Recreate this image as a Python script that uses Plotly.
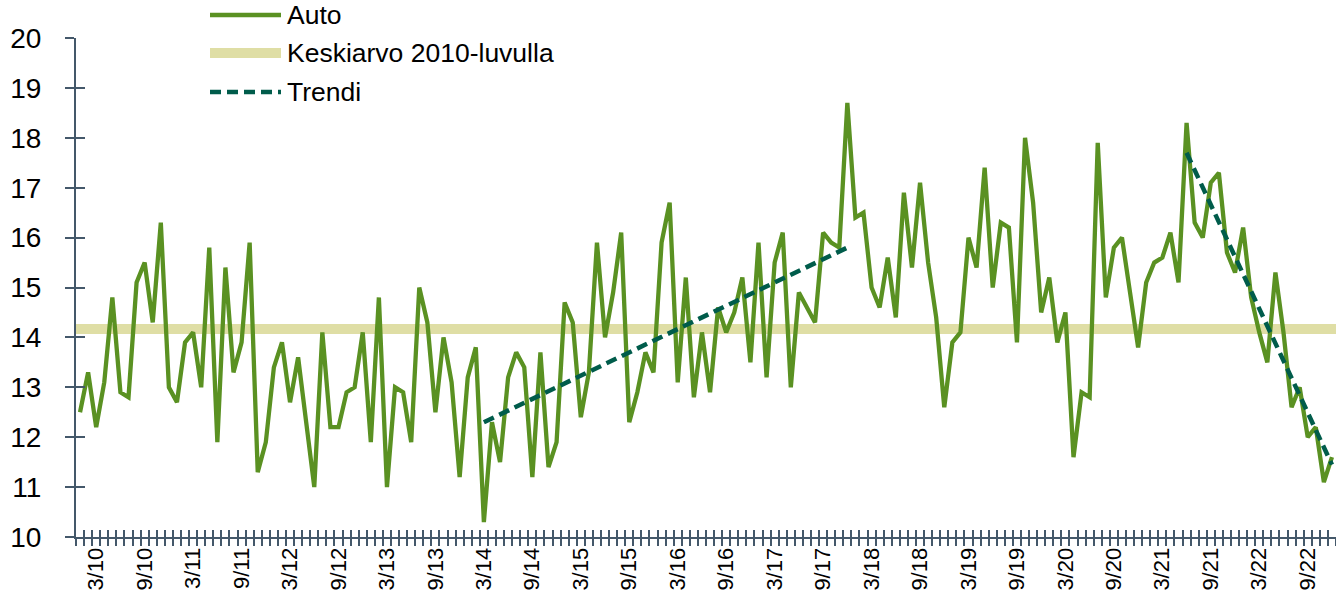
import plotly.graph_objects as go

# ---------------- data ----------------
years = list(range(10, 23))
months = [f"{m}/{y}" for y in years for m in range(1, 13)]  # 1/10 ... 12/22

auto_values = [
    12.5, 13.3, 12.2, 13.1, 14.8, 12.9, 12.8, 15.1, 15.5, 14.3, 16.3, 13.0,   # 2010
    12.7, 13.9, 14.1, 13.0, 15.8, 11.9, 15.4, 13.3, 13.9, 15.9, 11.3, 11.9,   # 2011
    13.4, 13.9, 12.7, 13.6, 12.3, 11.0, 14.1, 12.2, 12.2, 12.9, 13.0, 14.1,   # 2012
    11.9, 14.8, 11.0, 13.0, 12.9, 11.9, 15.0, 14.3, 12.5, 14.0, 13.1, 11.2,   # 2013
    13.2, 13.8, 10.3, 12.3, 11.5, 13.2, 13.7, 13.4, 11.2, 13.7, 11.4, 11.9,   # 2014
    14.7, 14.3, 12.4, 13.3, 15.9, 14.0, 14.9, 16.1, 12.3, 12.9, 13.7, 13.3,   # 2015
    15.9, 16.7, 13.1, 15.2, 12.8, 14.1, 12.9, 14.6, 14.1, 14.5, 15.2, 13.5,   # 2016
    15.9, 13.2, 15.5, 16.1, 13.0, 14.9, 14.6, 14.3, 16.1, 15.9, 15.8, 18.7,   # 2017
    16.4, 16.5, 15.0, 14.6, 15.6, 14.4, 16.9, 15.4, 17.1, 15.5, 14.4, 12.6,   # 2018
    13.9, 14.1, 16.0, 15.4, 17.4, 15.0, 16.3, 16.2, 13.9, 18.0, 16.7, 14.5,   # 2019
    15.2, 13.9, 14.5, 11.6, 12.9, 12.8, 17.9, 14.8, 15.8, 16.0, 14.9, 13.8,   # 2020
    15.1, 15.5, 15.6, 16.1, 15.1, 18.3, 16.3, 16.0, 17.1, 17.3, 15.7, 15.3,   # 2021
    16.2, 14.8, 14.1, 13.5, 15.3, 14.1, 12.6, 13.0, 12.0, 12.2, 11.1, 11.6,   # 2022
]

average_2010s = 14.17

trend1_months = ["3/14", "12/17"]
trend1_values = [12.3, 15.8]
trend2_months = ["6/21", "12/22"]
trend2_values = [17.7, 11.45]

tick_labels = ["3/10", "9/10", "3/11", "9/11", "3/12", "9/12", "3/13", "9/13",
               "3/14", "9/14", "3/15", "9/15", "3/16", "9/16", "3/17", "9/17",
               "3/18", "9/18", "3/19", "9/19", "3/20", "9/20", "3/21", "9/21",
               "3/22", "9/22"]

series_names = ["Auto", "Keskiarvo 2010-luvulla", "Trendi"]

# ---------------- styles ----------------
C_AUTO = "#5A9122"
C_AVG = "#DFDEA5"
C_TREND = "#005C4B"
C_AXIS = "#44586A"
FONT = "Liberation Sans, Arial, sans-serif"

W, H = 1336, 600
L, R, T, B = 76, 0, 38, 63
plot_w = W - L - R
plot_h = H - T - B


def px_x(px):
    return (px - L) / plot_w


def px_y(py):
    return (H - B - py) / plot_h


fig = go.Figure()

fig.add_trace(go.Scatter(
    x=months, y=auto_values, mode="lines", name=series_names[0],
    line=dict(color=C_AUTO, width=4.3), showlegend=False,
))

trend_x = trend1_months + [None] + trend2_months
trend_y = trend1_values + [None] + trend2_values
fig.add_trace(go.Scatter(
    x=trend_x, y=trend_y, mode="lines", name=series_names[2],
    line=dict(color=C_TREND, width=4.5, dash="11px,6px"), connectgaps=False,
    showlegend=False,
))

# invisible trace carrying the secondary (inside-tick) axes
fig.add_trace(go.Scatter(
    x=months, y=auto_values, mode="lines", xaxis="x2", yaxis="y2",
    line=dict(width=0), opacity=0, hoverinfo="skip", showlegend=False,
))

# average line across the plot
fig.add_shape(type="line", xref="paper", yref="y", x0=0, x1=1,
              y0=average_2010s, y1=average_2010s,
              line=dict(color=C_AVG, width=10), layer="below")

ticktext = [m if m in tick_labels else "" for m in months]

axis_common = dict(
    type="category", categoryorder="array", categoryarray=months,
    range=[-0.5, len(months) - 0.5],
    tickmode="array", tickvals=months,
    tickson="boundaries", ticklen=7, tickwidth=2, tickcolor=C_AXIS,
    showgrid=False, zeroline=False,
)

fig.update_layout(
    width=W, height=H,
    margin=dict(l=L, r=R, t=T, b=B, pad=0),
    paper_bgcolor="white", plot_bgcolor="white",
    font=dict(family=FONT, color="black"),
    showlegend=False,
    xaxis=dict(**axis_common, ticks="outside", ticktext=ticktext,
               tickangle=-90, tickfont=dict(size=22, family=FONT, color="black"),
               showline=True, linecolor=C_AXIS, linewidth=2),
    xaxis2=dict(**axis_common, ticks="inside", ticktext=["" for _ in months],
                overlaying="x", anchor="y2", side="bottom",
                showticklabels=False, showline=False),
    yaxis=dict(range=[10, 20], dtick=1, tick0=10, ticks="outside", ticklen=9,
               tickwidth=2, tickcolor=C_AXIS, showline=True, linecolor=C_AXIS,
               linewidth=2, showgrid=False, zeroline=False,
               tickfont=dict(size=28, family=FONT, color="black"),
               ticklabelstandoff=18),
    yaxis2=dict(range=[10, 20], dtick=1, tick0=10, ticks="inside", ticklen=9,
                tickwidth=2, tickcolor=C_AXIS, overlaying="y", anchor="x2",
                side="left", showticklabels=False, showline=False,
                showgrid=False, zeroline=False),
)

# ---------------- manual legend ----------------
leg_x0, leg_x1, text_x = 210, 281, 285
leg_rows = [15, 53, 92]
leg_styles = [
    dict(color=C_AUTO, width=4.3),
    dict(color=C_AVG, width=10),
    dict(color=C_TREND, width=4.5, dash="11px,6px"),
]
for name, row, style in zip(series_names, leg_rows, leg_styles):
    fig.add_shape(type="line", xref="paper", yref="paper",
                  x0=px_x(leg_x0), x1=px_x(leg_x1),
                  y0=px_y(row), y1=px_y(row), line=style)
    fig.add_annotation(xref="paper", yref="paper", x=px_x(text_x), y=px_y(row),
                       text=name, showarrow=False, xanchor="left", yanchor="middle",
                       font=dict(size=26.5, family=FONT, color="black"))

fig.write_html("out.html",
               config={"displayModeBar": False},
               post_script="document.body.style.margin='0';document.body.style.overflow='hidden';")
